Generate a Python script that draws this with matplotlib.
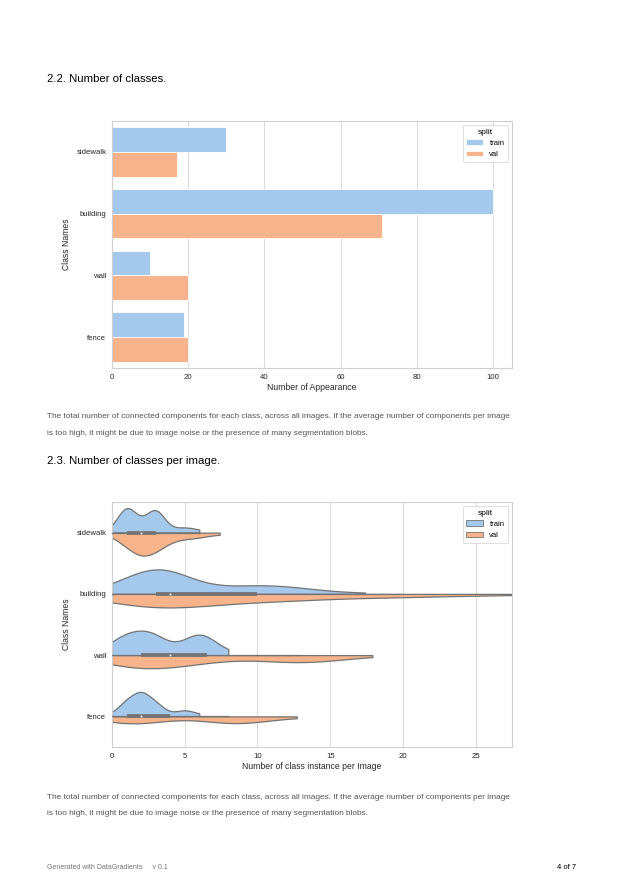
import numpy as np
import matplotlib
matplotlib.use('Agg')
import matplotlib.pyplot as plt
from matplotlib.patches import Patch

DPI = 100
plt.rcParams['font.family'] = ['Liberation Sans', 'DejaVu Sans']

class_names = ['sidewalk', 'building', 'wall', 'fence']
splits = ['train', 'val']
train_appearance = [30, 100, 10, 19]
val_appearance = [17, 71, 20, 20]

# instances per image: value -> number of images
sidewalk_train_vals = [0, 1, 2, 3, 4, 5, 6]
sidewalk_train_freq = [1, 11, 3, 10, 1, 2, 1]
sidewalk_val_vals = [0, 1, 2, 3, 4, 5, 6, 7.4]
sidewalk_val_freq = [1, 5, 9, 7, 3, 2, 2, 1]

building_train_vals = [0, 1, 2, 3, 4, 5, 6, 7, 8, 9, 10, 11, 12, 13, 14, 15, 17.4]
building_train_freq = [3, 4, 7, 10, 11, 3, 2, 2, 2, 2, 3, 3, 2, 2, 1, 1, 1]
building_val_vals = [0, 1, 2, 3, 4, 5, 6, 7, 8, 9, 10, 11, 12, 13, 14, 15, 16,
                     17, 18, 19, 20, 21, 23, 25, 27.5]
building_val_freq = [3, 3, 4, 5, 6, 2, 3, 3, 2, 2, 2, 2, 2, 2, 1, 1, 1,
                     1, 1, 1, 1, 1, 1, 1, 1]

wall_train_vals = [0, 1, 2, 3, 4, 5, 6, 7, 8]
wall_train_freq = [4, 7, 7, 8, 1, 3, 10, 3, 1]
wall_val_vals = [0, 1, 2, 3, 4, 5, 6, 7, 8, 9, 10, 11, 12, 13, 14, 15, 16, 17.9]
wall_val_freq = [5, 5, 5, 5, 5, 3, 3, 2, 1, 1, 1, 2, 3, 3, 3, 2, 1, 1]

fence_train_vals = [0, 1, 2, 3, 4, 5, 6]
fence_train_freq = [2, 14, 22, 12, 2, 6, 2]
fence_val_vals = [0, 1, 2, 3, 4, 6, 7, 8, 9, 10, 11, 12.7]
fence_val_freq = [3, 3, 3, 2, 1, 1, 2, 3, 3, 2, 1, 1]

violin_data = {
    'sidewalk': [(sidewalk_train_vals, sidewalk_train_freq), (sidewalk_val_vals, sidewalk_val_freq)],
    'building': [(building_train_vals, building_train_freq), (building_val_vals, building_val_freq)],
    'wall': [(wall_train_vals, wall_train_freq), (wall_val_vals, wall_val_freq)],
    'fence': [(fence_train_vals, fence_train_freq), (fence_val_vals, fence_val_freq)],
}

BLUE = '#a5c8ed'
ORANGE = '#f7b48a'
GRAY = '#737373'
BW = 0.42

body_line1 = ('The total number of connected components for each class, across all images. '
              'If the average number of components per image')
body_line2 = 'is too high, it might be due to image noise or the presence of many segmentation blobs.'


def kde(values, freq):
    data = np.repeat(np.asarray(values, float), freq)
    sigma = BW * data.std(ddof=1)
    grid = np.linspace(data.min(), data.max(), 100)
    dens = np.exp(-0.5 * ((grid[:, None] - data[None, :]) / sigma) ** 2).sum(axis=1)
    dens /= len(data) * sigma * np.sqrt(2 * np.pi)
    return grid, dens, data


def style_axes(ax):
    for s in ax.spines.values():
        s.set_color('#d0d0d0')
        s.set_linewidth(0.8)
    ax.set_axisbelow(True)
    ax.grid(axis='x', color='#dcdcdc', linewidth=0.8)
    ax.tick_params(length=0, labelsize=5.6, labelcolor='#262626', pad=4)
    ax.set_yticks(range(len(class_names)))
    ax.set_yticklabels(class_names)
    ax.set_ylim(3.5, -0.5)
    ax.set_ylabel('Class Names', fontsize=6.2, color='#262626', labelpad=4)


fig = plt.figure(dpi=DPI, figsize=(623 / DPI, 896 / DPI))

# page text
fig.text(47 / 623, 1 - 82 / 896, '2.2. Number of classes.', fontsize=8.2, va='baseline')
fig.text(47 / 623, 1 - 418.5 / 896, body_line1, fontsize=5.95, color='#555555', va='baseline')
fig.text(47 / 623, 1 - 434.5 / 896, body_line2, fontsize=5.95, color='#555555', va='baseline')
fig.text(47 / 623, 1 - 464 / 896, '2.3. Number of classes per image.', fontsize=8.2, va='baseline')
fig.text(47 / 623, 1 - 798.5 / 896, body_line1, fontsize=5.95, color='#555555', va='baseline')
fig.text(47 / 623, 1 - 815 / 896, body_line2, fontsize=5.95, color='#555555', va='baseline')
fig.text(47 / 623, 1 - 868.5 / 896, 'Generated with DataGradients     v 0.1', fontsize=5,
         color='#777777', va='baseline')
fig.text(576 / 623, 1 - 868.5 / 896, '4 of 7', fontsize=5.5, ha='right', va='baseline')

# bar chart
ax1 = fig.add_axes([112 / 623, 1 - 368 / 896, 400 / 623, 247 / 896])
y = np.arange(len(class_names))
ax1.barh(y - 0.2, train_appearance, height=0.4, color=BLUE, edgecolor='white', linewidth=0.6, label='train')
ax1.barh(y + 0.2, val_appearance, height=0.4, color=ORANGE, edgecolor='white', linewidth=0.6, label='val')
style_axes(ax1)
ax1.set_xlim(0, 105)
ax1.set_xticks(range(0, 101, 20))
ax1.set_xlabel('Number of Appearance', fontsize=6.2, color='#262626', labelpad=2)
leg = ax1.legend(title='split', loc='upper right', fontsize=5.5, title_fontsize=6,
                 handlelength=2.2, borderpad=0.5, edgecolor='#d0d0d0', fancybox=True)
leg.get_frame().set_linewidth(0.6)

# violin chart
ax2 = fig.add_axes([112 / 623, 1 - 747 / 896, 400 / 623, 245 / 896])
colors = [BLUE, ORANGE]
for i, name in enumerate(class_names):
    halves = [kde(v, f) for v, f in violin_data[name]]
    peak = max(d.max() for _, d, _ in halves)
    for j, (grid, dens, _) in enumerate(halves):
        sign = -1 if j == 0 else 1
        ax2.fill_between(grid, i, i + sign * dens / peak * 0.4, facecolor=colors[j],
                         edgecolor=GRAY, linewidth=0.9, zorder=2)
    allv = np.concatenate([h[2] for h in halves])
    q25, q50, q75 = np.percentile(allv, [25, 50, 75])
    lim = 1.5 * (q75 - q25)
    h1 = allv[allv >= q25 - lim].min()
    h2 = allv[allv <= q75 + lim].max()
    ax2.plot([h1, h2], [i, i], color=GRAY, linewidth=0.9, zorder=3)
    ax2.plot([q25, q75], [i, i], color=GRAY, linewidth=2.7, zorder=3, solid_capstyle='butt')
    ax2.scatter([q50], [i], s=3, color='white', edgecolor=GRAY, linewidth=0.3, zorder=4)
style_axes(ax2)
ax2.set_xlim(0, 27.5)
ax2.set_xticks(range(0, 26, 5))
ax2.set_xlabel('Number of class instance per Image', fontsize=6.2, color='#262626', labelpad=2)
handles = [Patch(facecolor=c, edgecolor=GRAY, linewidth=0.6) for c in colors]
leg = ax2.legend(handles, splits, title='split', loc='upper right', fontsize=5.5, title_fontsize=6,
                 handlelength=2.2, borderpad=0.5, edgecolor='#d0d0d0', fancybox=True)
leg.get_frame().set_linewidth(0.6)

fig.savefig('out.png', dpi=DPI)
